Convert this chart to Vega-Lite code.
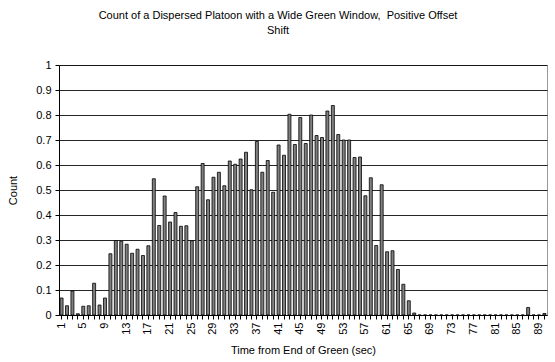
{
  "$schema": "https://vega.github.io/schema/vega-lite/v6.json",
  "width": 488,
  "height": 250,
  "autosize": "none",
  "padding": {"left": 59, "top": 65, "right": 8, "bottom": 47},
  "background": "white",
  "title": {
    "text": ["Count of a Dispersed Platoon with a Wide Green Window, \u00a0Positive Offset", "Shift"],
    "font": "Liberation Sans",
    "fontSize": 11,
    "fontWeight": "normal",
    "color": "black",
    "anchor": "middle",
    "dx": -25,
    "offset": 23,
    "lineHeight": 15
  },
  "config": {
    "view": {"stroke": "#999999", "strokeWidth": 1},
    "axis": {
      "labelFont": "Liberation Sans",
      "titleFont": "Liberation Sans",
      "labelColor": "black",
      "titleColor": "black",
      "titleFontWeight": "normal",
      "labelFontSize": 11,
      "titleFontSize": 11
    }
  },
  "data": {
    "values": [
      {"t": 1, "count": 0.068}, {"t": 2, "count": 0.037}, {"t": 3, "count": 0.096}, {"t": 4, "count": 0.005},
      {"t": 5, "count": 0.035}, {"t": 6, "count": 0.037}, {"t": 7, "count": 0.127}, {"t": 8, "count": 0.04},
      {"t": 9, "count": 0.068}, {"t": 10, "count": 0.245}, {"t": 11, "count": 0.298}, {"t": 12, "count": 0.295},
      {"t": 13, "count": 0.283}, {"t": 14, "count": 0.247}, {"t": 15, "count": 0.263}, {"t": 16, "count": 0.238},
      {"t": 17, "count": 0.277}, {"t": 18, "count": 0.545}, {"t": 19, "count": 0.358}, {"t": 20, "count": 0.476},
      {"t": 21, "count": 0.372}, {"t": 22, "count": 0.41}, {"t": 23, "count": 0.355}, {"t": 24, "count": 0.357},
      {"t": 25, "count": 0.297}, {"t": 26, "count": 0.513}, {"t": 27, "count": 0.606}, {"t": 28, "count": 0.461},
      {"t": 29, "count": 0.551}, {"t": 30, "count": 0.571}, {"t": 31, "count": 0.517}, {"t": 32, "count": 0.616},
      {"t": 33, "count": 0.603}, {"t": 34, "count": 0.624}, {"t": 35, "count": 0.651}, {"t": 36, "count": 0.501},
      {"t": 37, "count": 0.694}, {"t": 38, "count": 0.571}, {"t": 39, "count": 0.618}, {"t": 40, "count": 0.491},
      {"t": 41, "count": 0.68}, {"t": 42, "count": 0.639}, {"t": 43, "count": 0.803}, {"t": 44, "count": 0.682},
      {"t": 45, "count": 0.79}, {"t": 46, "count": 0.686}, {"t": 47, "count": 0.8}, {"t": 48, "count": 0.718},
      {"t": 49, "count": 0.71}, {"t": 50, "count": 0.816}, {"t": 51, "count": 0.838}, {"t": 52, "count": 0.722},
      {"t": 53, "count": 0.7}, {"t": 54, "count": 0.7}, {"t": 55, "count": 0.63}, {"t": 56, "count": 0.632},
      {"t": 57, "count": 0.477}, {"t": 58, "count": 0.549}, {"t": 59, "count": 0.278}, {"t": 60, "count": 0.521},
      {"t": 61, "count": 0.253}, {"t": 62, "count": 0.257}, {"t": 63, "count": 0.182}, {"t": 64, "count": 0.123},
      {"t": 65, "count": 0.057}, {"t": 66, "count": 0.008}, {"t": 67, "count": 0}, {"t": 68, "count": 0},
      {"t": 69, "count": 0}, {"t": 70, "count": 0}, {"t": 71, "count": 0}, {"t": 72, "count": 0},
      {"t": 73, "count": 0}, {"t": 74, "count": 0}, {"t": 75, "count": 0}, {"t": 76, "count": 0},
      {"t": 77, "count": 0}, {"t": 78, "count": 0}, {"t": 79, "count": 0}, {"t": 80, "count": 0},
      {"t": 81, "count": 0}, {"t": 82, "count": 0}, {"t": 83, "count": 0}, {"t": 84, "count": 0},
      {"t": 85, "count": 0}, {"t": 86, "count": 0}, {"t": 87, "count": 0.03}, {"t": 88, "count": 0},
      {"t": 89, "count": 0}, {"t": 90, "count": 0.006}
    ]
  },
  "mark": {"type": "bar", "fill": "#808080", "stroke": "black", "strokeWidth": 0.8},
  "encoding": {
    "x": {
      "field": "t",
      "type": "ordinal",
      "scale": {"paddingInner": 0.45, "paddingOuter": 0.2},
      "axis": {
        "title": "Time from End of Green (sec)",
        "labelAngle": -90,
        "labelExpr": "(datum.value - 1) % 4 == 0 ? datum.label : ''",
        "labelPadding": 3,
        "tickSize": 4,
        "tickColor": "black",
        "domainColor": "black",
        "titlePadding": 10,
        "grid": false
      }
    },
    "y": {
      "field": "count",
      "type": "quantitative",
      "scale": {"domain": [0, 1], "nice": false},
      "axis": {
        "title": "Count",
        "values": [0, 0.1, 0.2, 0.3, 0.4, 0.5, 0.6, 0.7, 0.8, 0.9, 1],
        "format": ".1~f",
        "grid": true,
        "gridColor": "black",
        "gridOpacity": 0.85,
        "gridWidth": 1,
        "tickSize": 4,
        "tickColor": "black",
        "domainColor": "black",
        "labelPadding": 4,
        "titlePadding": 17
      }
    }
  }
}
